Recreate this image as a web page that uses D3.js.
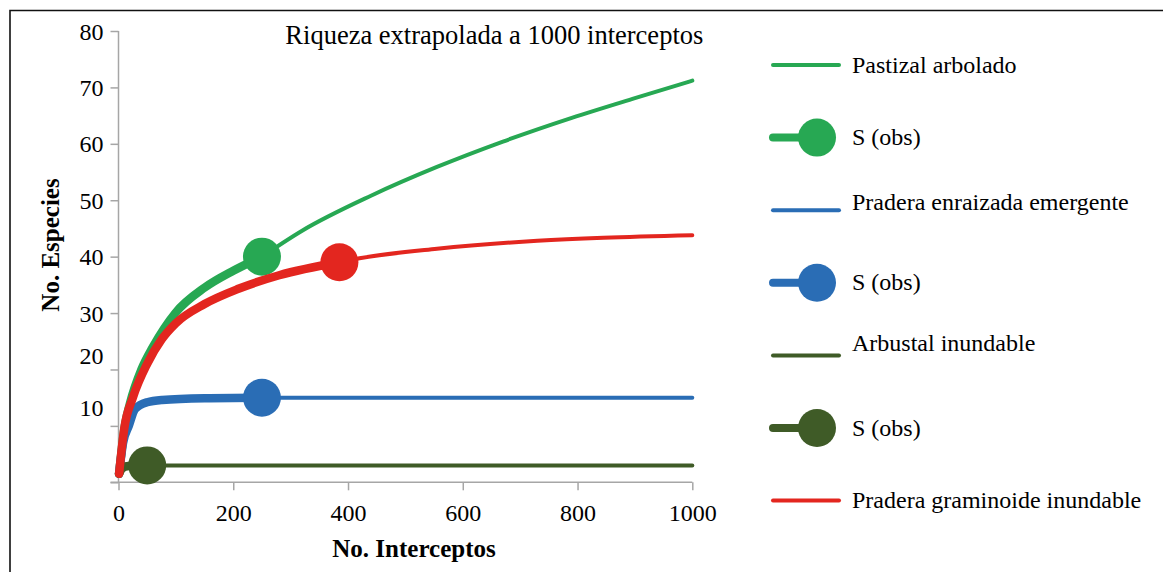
<!DOCTYPE html>
<html>
<head>
<meta charset="utf-8">
<script src="https://cdn.jsdelivr.net/npm/d3@7/dist/d3.min.js"></script>
<style>
  body { margin: 0; background: #fff; }
  svg text { font-family: "Liberation Serif", serif; fill: #000; }
  .axis path, .axis line { stroke: #a6a6a6; stroke-width: 1.5; }
  .axis text { font-size: 24px; }
  .label { font-size: 25px; font-weight: bold; }
  .legend text { font-size: 24px; }
</style>
</head>
<body>
<div id="chart"></div>
<script>
var chartTitle = 'Riqueza extrapolada a 1000 interceptos'
var xAxisLabel = 'No. Interceptos'
var yAxisLabel = 'No. Especies'

var seriesNames = ['Pastizal arbolado', 'Pradera enraizada emergente', 'Arbustal inundable', 'Pradera graminoide inundable']
var obsLabel = 'S (obs)'

var pastizalObsX = [1, 11, 20, 40, 60, 99, 150, 200, 250]
var pastizalObsY = [1.5, 10, 14, 20, 24, 30, 34.5, 37.5, 40]
var enraizadaObsX = [1, 8, 18, 29, 50, 76, 150, 250]
var enraizadaObsY = [1.5, 7, 10, 13, 14.2, 14.6, 14.9, 15]
var arbustalObsX = [1, 5, 12, 25, 50]
var arbustalObsY = [1.5, 2.3, 2.8, 2.95, 3]
var graminoideObsX = [1, 10, 25, 50, 75, 100, 150, 209, 280, 385]
var graminoideObsY = [1.5, 9.5, 15, 21, 25.3, 28.2, 31.6, 34.3, 36.7, 39]

// extrapolated part, to 1000 intercepts
var pastizalExtX = [250, 320, 440, 555, 670, 790, 900, 1000]
var pastizalExtY = [40, 44.6, 50.8, 55.9, 60.4, 64.6, 68.1, 71.2]
var enraizadaExtX = [250, 500, 750, 1000]
var enraizadaExtY = [15, 15, 15, 15]
var arbustalExtX = [50, 500, 1000]
var arbustalExtY = [3, 3, 3]
var graminoideExtX = [385, 420, 555, 730, 845, 1000]
var graminoideExtY = [39, 39.7, 41.4, 42.8, 43.35, 43.8]

// observed richness S(obs)
var obsN = [250, 250, 50, 385]
var obsS = [40, 15, 3, 39]

var xTicks = [0, 200, 400, 600, 800, 1000]
var yTicks = [0, 10, 20, 30, 40, 50, 60, 70, 80]

var colors = ['#27a853', '#2a6db5', '#3f5b27', '#e3261f']

var margin, width, height;
var xScale, yScale, svg, g;

function GenerateGlobals() {
  margin = {top: 31, left: 118.5}
  width = 692.3 - margin.left
  height = 482.3 - margin.top

  xScale = d3.scaleLinear().domain([0, 1000]).range([0, width])
  yScale = d3.scaleLinear().domain([0, 80]).range([height, 0])

  svg = d3.select('#chart').append('svg')
      .attr('width', 1163)
      .attr('height', 572)

  // frame (top and left edges only visible)
  svg.append('path')
      .attr('d', 'M10,572 V10.5 H1163')
      .attr('fill', 'none')
      .attr('stroke', '#111')
      .attr('stroke-width', 1.6)

  g = svg.append('g')
      .attr('transform', 'translate(' + margin.left + ',' + margin.top + ')')
}

function DrawStatics() {
  // y axis; the 0 label is not shown, 10 and 20 sit a bit high as in the original
  var yShift = {10: -18, 20: -14}
  var yAxis = d3.axisLeft(yScale).tickValues(yTicks).tickSize(8).tickPadding(7)
      .tickFormat(function(d) { return d == 0 ? '' : d })
  var ya = g.append('g').attr('class', 'y axis').call(yAxis)
  ya.attr('font-family', null).attr('font-size', null)
  ya.select('.domain').attr('d', 'M0,' + height + 'V0')
  ya.selectAll('.tick text')
      .attr('dy', function(d) { return ((yShift[d] || 0) + 8) + 'px' })

  var xAxis = d3.axisBottom(xScale).tickValues(xTicks).tickSize(8).tickPadding(14)
      .tickFormat(d3.format('d'))
  var xa = g.append('g').attr('class', 'x axis')
      .attr('transform', 'translate(0,' + height + ')')
      .call(xAxis)
  xa.attr('font-family', null).attr('font-size', null)
  xa.select('.domain').attr('d', 'M-8,0H' + width)

  g.append('text')
      .attr('class', 'label')
      .attr('x', xScale(515))
      .attr('y', height + 75)
      .style('text-anchor', 'middle')
      .text(xAxisLabel)

  g.append('text')
      .attr('class', 'label')
      .attr('transform', 'rotate(-90)')
      .attr('x', -(245 - margin.top))
      .attr('y', 50 - margin.left + 9)
      .style('text-anchor', 'middle')
      .text(yAxisLabel)

  g.append('text')
      .attr('x', xScale(655))
      .attr('y', 44 - margin.top)
      .style('text-anchor', 'middle')
      .style('font-size', '26.5px')
      .text(chartTitle)
}

function zipPoints(xs, ys) {
  return xs.map(function(x, i) { return [x, ys[i]] })
}

function DrawData() {
  var obsParts = [zipPoints(pastizalObsX, pastizalObsY), zipPoints(enraizadaObsX, enraizadaObsY),
                  zipPoints(arbustalObsX, arbustalObsY), zipPoints(graminoideObsX, graminoideObsY)]
  var extParts = [zipPoints(pastizalExtX, pastizalExtY), zipPoints(enraizadaExtX, enraizadaExtY),
                  zipPoints(arbustalExtX, arbustalExtY), zipPoints(graminoideExtX, graminoideExtY)]

  var line = d3.line()
      .x(function(d) { return xScale(d[0]) })
      .y(function(d) { return yScale(d[1]) })
      .curve(d3.curveMonotoneX)

  var lines = g.append('g').attr('id', 'lines')
  seriesNames.forEach(function(name, i) {
    var sg = lines.append('g').attr('class', 'series')
    sg.append('path')
        .attr('d', line(extParts[i]))
        .attr('fill', 'none')
        .attr('stroke', colors[i])
        .attr('stroke-width', 4)
        .attr('stroke-linecap', 'round')
    sg.append('path')
        .attr('d', line(obsParts[i]))
        .attr('fill', 'none')
        .attr('stroke', colors[i])
        .attr('stroke-width', 8.5)
        .attr('stroke-linecap', 'round')
    sg.append('circle')
        .attr('cx', xScale(obsN[i]))
        .attr('cy', yScale(obsS[i]))
        .attr('r', 19)
        .attr('fill', colors[i])
  })
}

function DrawLegend() {
  var legendG = svg.append('g').attr('class', 'legend')
  // legend rows: each series line then its S(obs); the last S(obs) is cut off in the original
  var rows = []
  seriesNames.forEach(function(name, i) {
    rows.push({text: name, color: colors[i], obs: false})
    if (i < seriesNames.length - 1) rows.push({text: obsLabel, color: colors[i], obs: true})
  })
  var textNudge = [0, 0, -7.5, 0, -12.5, 0, 0]

  var item = legendG.selectAll('.item')
      .data(rows)
      .enter()
      .append('g')
      .attr('class', 'item')
      .attr('transform', function(d, i) { return 'translate(773,' + (65 + i * 72.6) + ')' })

  item.filter(function(d) { return !d.obs }).append('line')
      .attr('x1', 0).attr('x2', 66)
      .attr('stroke', function(d) { return d.color })
      .attr('stroke-width', 4)
      .attr('stroke-linecap', 'round')

  var obsItems = item.filter(function(d) { return d.obs })
  obsItems.append('line')
      .attr('x1', 0).attr('x2', 44)
      .attr('stroke', function(d) { return d.color })
      .attr('stroke-width', 8)
      .attr('stroke-linecap', 'round')
  obsItems.append('circle')
      .attr('cx', 44)
      .attr('r', 19)
      .attr('fill', function(d) { return d.color })

  item.append('text')
      .attr('x', 79)
      .attr('y', function(d, i) { return textNudge[i] })
      .attr('dy', '0.32em')
      .text(function(d) { return d.text })
}

function DrawChart() {
  GenerateGlobals()
  DrawStatics()
  DrawData()
  DrawLegend()
}

DrawChart()
</script>
</body>
</html>
